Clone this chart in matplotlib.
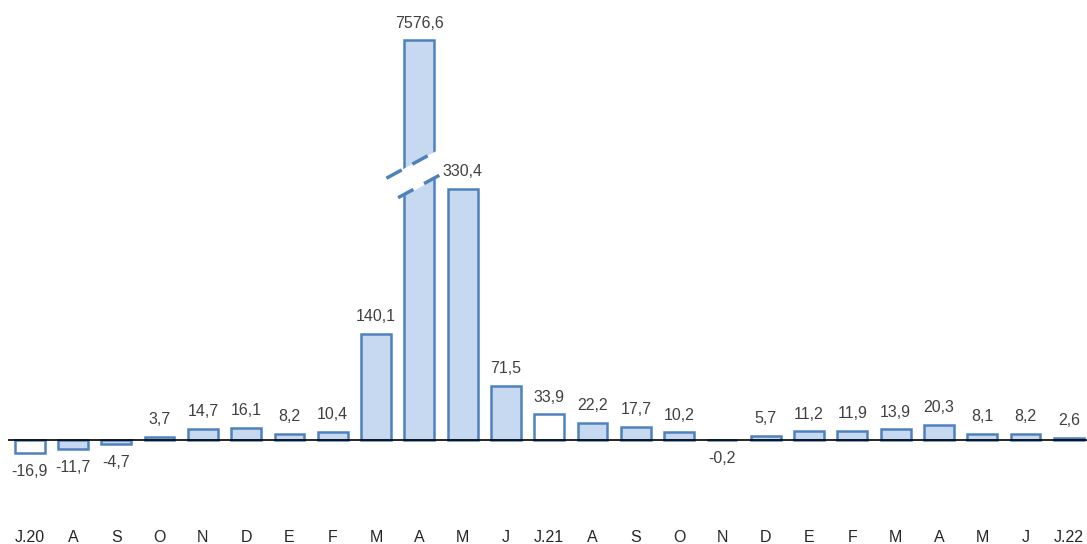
import matplotlib
matplotlib.use("Agg")
import matplotlib.pyplot as plt
import numpy as np

plt.rcParams["font.family"] = ["Liberation Sans", "DejaVu Sans"]

# monthly variation, July 2020 - July 2022
months = ["J.20", "A", "S", "O", "N", "D", "E", "F", "M", "A", "M", "J",
          "J.21", "A", "S", "O", "N", "D", "E", "F", "M", "A", "M", "J", "J.22"]
values = [-16.9, -11.7, -4.7, 3.7, 14.7, 16.1, 8.2, 10.4, 140.1, 7576.6, 330.4, 71.5,
          33.9, 22.2, 17.7, 10.2, -0.2, 5.7, 11.2, 11.9, 13.9, 20.3, 8.1, 8.2, 2.6]
hollow = ["J.20", "J.21"]

# the outlier is drawn on a broken bar
cap = 526
blue = "#4f81bd"
fill = "#c6d9f0"

x = np.arange(len(values))
shown = [min(v, cap) for v in values]
colors = ["white" if m in hollow else fill for m in months]

fig = plt.figure(figsize=(10.87, 5.44), dpi=100)
ax = fig.add_axes([8 / 1087, 24 / 544, 1079 / 1087, 520 / 544])

ax.bar(x, shown, width=0.69, color=colors, edgecolor=blue, linewidth=1.8, zorder=2)
ax.axhline(0, color="black", linewidth=1.2, zorder=3)

for xi, v, s in zip(x, values, shown):
    txt = f"{v:.1f}".replace(".", ",")
    if v >= 0:
        ax.annotate(txt, (xi, s), xytext=(0, 7), textcoords="offset points",
                    ha="center", va="bottom", fontsize=11.5, color="#404040")
    else:
        ax.annotate(txt, (xi, s), xytext=(0, -8), textcoords="offset points",
                    ha="center", va="top", fontsize=11.5, color="#404040")

# break marker on the outlier bar
ib = int(np.argmax(values))
slope = 31
dx = np.array([-0.4, 0.4])
ax.fill_between(ib + dx, 334 + slope * dx, 368 + slope * dx, color="white", zorder=4)
tx = np.array([-0.76, 0.23])
bx = np.array([-0.49, 0.48])
ax.plot(ib + tx, 368 + slope * tx, color=blue, lw=2.5, dashes=(5, 3.5), zorder=5,
        dash_capstyle="butt")
ax.plot(ib + bx, 334 + slope * bx, color=blue, lw=2.5, dashes=(5, 3.5), zorder=5,
        dash_capstyle="butt")

ax.set_xlim(-0.5, 24.42)
ax.set_ylim((440 - 520) / 0.76, 440 / 0.76)
ax.set_xticks(x)
ax.set_xticklabels(months, fontsize=11.5, color="#262626")
ax.tick_params(axis="x", length=0, pad=7)
ax.set_yticks([])
for sp in ax.spines.values():
    sp.set_visible(False)

fig.savefig("out.png", dpi=100)
